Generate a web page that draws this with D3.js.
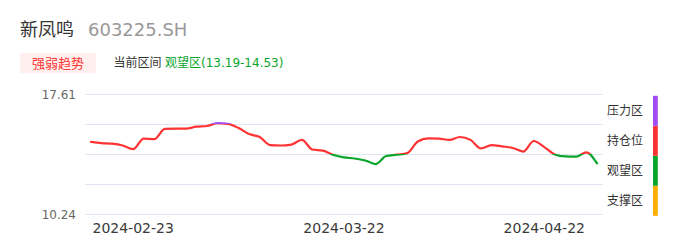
<!DOCTYPE html>
<html><head><meta charset="utf-8">
<script src="https://cdn.jsdelivr.net/npm/d3@7"></script>
<style>
html,body{margin:0;padding:0;background:#fff;}
svg{display:block;font-family:"DejaVu Sans","Noto Sans CJK SC",sans-serif;}
</style></head>
<body>
<svg id="c" width="686" height="247"></svg>
<script>
// ---- data ----
const stockName = "新凤鸣";
const stockCode = "603225.SH";
const badgeText = "强弱趋势";
const rangeLabel = "当前区间";
const rangeText = "观望区(13.19-14.53)";
const dates = [
 "2024-02-19","2024-02-20","2024-02-21","2024-02-22","2024-02-23","2024-02-26","2024-02-27","2024-02-28","2024-02-29",
 "2024-03-01","2024-03-04","2024-03-05","2024-03-06","2024-03-07","2024-03-08","2024-03-11","2024-03-12","2024-03-13",
 "2024-03-14","2024-03-15","2024-03-18","2024-03-19","2024-03-20","2024-03-21","2024-03-22","2024-03-25","2024-03-26",
 "2024-03-27","2024-03-28","2024-03-29","2024-04-01","2024-04-02","2024-04-03","2024-04-08","2024-04-09","2024-04-10",
 "2024-04-11","2024-04-12","2024-04-15","2024-04-16","2024-04-17","2024-04-18","2024-04-19","2024-04-22","2024-04-23",
 "2024-04-24","2024-04-25","2024-04-26","2024-04-29"];
const prices = [
 15.07,15.02,14.99,14.91,14.75,15.22,15.19,15.65,15.66,
 15.66,15.75,15.78,15.92,15.88,15.69,15.42,15.29,14.93,
 14.91,14.95,15.16,14.73,14.68,14.49,14.38,14.33,14.24,
 14.08,14.44,14.50,14.57,15.09,15.23,15.22,15.16,15.29,
 15.16,14.78,14.93,14.87,14.80,14.64,15.11,14.84,14.51,
 14.42,14.41,14.60,14.11];
const zoneNames = ["支撑区","观望区","持仓位","压力区"];
const zoneBounds = [10.24, 13.19, 14.53, 15.87, 17.61];
const xTickLabels = ["2024-02-23","2024-03-22","2024-04-22"];
const yTickLabels = ["17.61","10.24"];

// ---- style ----
const zoneColor = {"支撑区":"#ffae00","观望区":"#0aa52b","持仓位":"#ff3333","压力区":"#a04cf2"};

const svg = d3.select("#c");
// header
svg.append("text").attr("x",20).attr("y",35.5).attr("font-size",18).attr("fill","#333").text(stockName);
svg.append("text").attr("x",88).attr("y",35.5).attr("font-size",18).attr("fill","#999").text(stockCode);
svg.append("rect").attr("x",20).attr("y",53).attr("width",76).attr("height",20).attr("fill","#fff0ed");
svg.append("text").attr("x",58).attr("y",67.5).attr("text-anchor","middle").attr("font-size",13).attr("fill","#ff3333").text(badgeText);
svg.append("text").attr("x",113.5).attr("y",67).attr("font-size",12).attr("fill","#333").text(rangeLabel);
svg.append("text").attr("x",165).attr("y",67).attr("font-size",12).attr("fill",zoneColor["观望区"]).text(rangeText);

// scales
const y = d3.scaleLinear().domain(zoneBounds).range([214,184,154,124,94]);
const x = d3.scalePoint().domain(dates).range([91,597]);

// grid
const gridVals = zoneBounds;
svg.append("g").selectAll("line").data(gridVals).join("line")
  .attr("x1",85).attr("x2",603)
  .attr("y1",d=>Math.round(y(d))+0.5).attr("y2",d=>Math.round(y(d))+0.5)
  .attr("stroke","#e1e5f2").attr("stroke-width",1);

// y labels
svg.append("g").selectAll("text").data(yTickLabels).join("text")
  .attr("x",76).attr("y",d=>y(+d)+4.5).attr("text-anchor","end")
  .attr("font-size",12).attr("fill","#666").text(d=>d);

// x labels
svg.append("g").selectAll("text").data(xTickLabels).join("text")
  .attr("x",d=>x(d)).attr("y",233).attr("text-anchor","middle")
  .attr("font-size",14).attr("fill","#3a3a3a").text(d=>d);

// line, colored by zone through clipping
const line = d3.line().x((d,i)=>x(dates[i])).y(d=>y(d)).curve(d3.curveMonotoneX);
const defs = svg.append("defs");
zoneNames.forEach((z,i)=>{
  const top = i===zoneNames.length-1 ? 0 : y(zoneBounds[i+1]);
  const bot = i===0 ? 247 : y(zoneBounds[i]);
  defs.append("clipPath").attr("id","clip"+i).append("rect")
    .attr("x",0).attr("width",686).attr("y",top).attr("height",bot-top);
  svg.append("path").datum(prices).attr("d",line)
    .attr("fill","none").attr("stroke",zoneColor[z]).attr("stroke-width",2.2)
    .attr("stroke-linejoin","round").attr("stroke-linecap","round")
    .attr("clip-path","url(#clip"+i+")");
});

// legend
const lg = svg.append("g");
zoneNames.forEach((z,i)=>{
  const top = y(zoneBounds[i+1])+1.8, bot = y(zoneBounds[i])+1.8;
  lg.append("rect").attr("x",653).attr("y",top).attr("width",4.8).attr("height",bot-top).attr("fill",zoneColor[z]);
  lg.append("text").attr("x",607).attr("y",(top+bot)/2+4.5).attr("font-size",12).attr("fill","#333").text(z);
});
</script>
</body></html>
